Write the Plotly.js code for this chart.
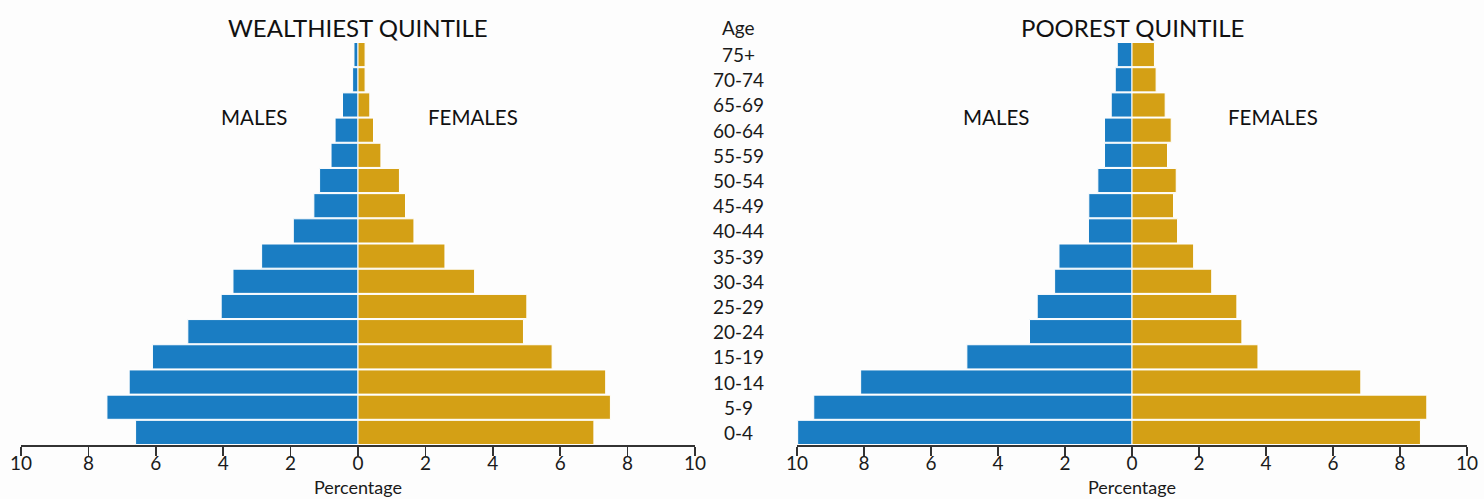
<!DOCTYPE html>
<html>
<head>
<meta charset="utf-8">
<script src="https://cdn.plot.ly/plotly-3.0.1.min.js"></script>
<style>html,body{margin:0;padding:0;background:#fdfdfd;}#chart{width:1484px;height:499px;}</style>
</head>
<body>
<div id="chart"></div>
<script>
// Age groups, bottom to top
const ageGroups = ['0-4','5-9','10-14','15-19','20-24','25-29','30-34','35-39','40-44','45-49','50-54','55-59','60-64','65-69','70-74','75+'];
// Wealthiest quintile (% of population)
const wealthMales   = [6.60, 7.45, 6.79, 6.10, 5.05, 4.06, 3.71, 2.86, 1.92, 1.31, 1.14, 0.80, 0.68, 0.46, 0.16, 0.12];
const wealthFemales = [7.00, 7.49, 7.35, 5.76, 4.91, 5.01, 3.46, 2.58, 1.66, 1.41, 1.23, 0.68, 0.46, 0.35, 0.21, 0.21];
// Poorest quintile (% of population)
const poorMales     = [9.98, 9.50, 8.10, 4.93, 3.06, 2.83, 2.31, 2.18, 1.30, 1.29, 1.02, 0.82, 0.82, 0.62, 0.50, 0.44];
const poorFemales   = [8.61, 8.80, 6.83, 3.76, 3.28, 3.13, 2.38, 1.84, 1.36, 1.24, 1.32, 1.06, 1.17, 0.99, 0.72, 0.67];
// Axis ticks
const tickVals = [-10,-8,-6,-4,-2,0,2,4,6,8,10];
const tickText = ['10','8','6','4','2','0','2','4','6','8','10'];

const BLUE = '#1a7dc3';
const GOLD = '#d4a015';
const FONT = 'Lato, "Open Sans", sans-serif';
const INK = '#1a1a1a';

function bar(vals, color, xa, ya, neg) {
  return {
    type: 'bar', orientation: 'h',
    y: ageGroups, x: vals.map(v => neg ? -v : v),
    xaxis: xa, yaxis: ya,
    marker: {color: color, line: {color: '#ffffff', width: 1}},
    hoverinfo: 'skip', showlegend: false
  };
}

const data = [
  bar(wealthMales, BLUE, 'x', 'y', true),
  bar(wealthFemales, GOLD, 'x', 'y', false),
  bar(poorMales, BLUE, 'x2', 'y2', true),
  bar(poorFemales, GOLD, 'x2', 'y2', false)
];

const W = 1484, PLOT_H = 403;
const xAxisBase = {
  range: [-10, 10], tickvals: tickVals, ticktext: tickText,
  showgrid: false, zeroline: false, showline: true,
  linecolor: '#333', linewidth: 1.5,
  ticks: 'outside', ticklen: 9, tickwidth: 1.5, tickcolor: '#333',
  ticklabelstandoff: -8,
  tickfont: {family: FONT, size: 19, color: INK},
  fixedrange: true
};
const yAxisBase = {
  type: 'category', categoryarray: ageGroups, categoryorder: 'array',
  range: [-0.5, ageGroups.length - 0.5],
  showticklabels: false, showgrid: false, zeroline: false, showline: false, ticks: '',
  domain: [0, 1], fixedrange: true
};

const annFont = {family: FONT, size: 19, color: INK};
const annotations = [];
ageGroups.forEach(a => annotations.push({
  text: a, x: 738 / W, xref: 'paper', y: a, yref: 'y', xanchor: 'center', yanchor: 'middle',
  showarrow: false, font: annFont
}));
annotations.push({text: 'Age', x: 738 / W, xref: 'paper', y: 1 + (42 - 28) / PLOT_H, yref: 'paper', yanchor: 'middle', xanchor: 'center', showarrow: false, font: annFont});
const titleFont = {family: FONT, size: 24, color: '#111'};
annotations.push({text: 'WEALTHIEST QUINTILE', x: 0, xref: 'x', y: 1 + (42 - 28) / PLOT_H, yref: 'paper', xanchor: 'center', yanchor: 'middle', showarrow: false, font: titleFont});
annotations.push({text: 'POOREST QUINTILE', x: 0, xref: 'x2', y: 1 + (42 - 28) / PLOT_H, yref: 'paper', xanchor: 'center', yanchor: 'middle', showarrow: false, font: titleFont});
const sexFont = {family: FONT, size: 20.5, color: '#111'};
annotations.push({text: 'MALES', x: -3.09, xref: 'x', y: '60-64', yref: 'y', yshift: 13, xanchor: 'center', yanchor: 'middle', showarrow: false, font: sexFont});
annotations.push({text: 'FEMALES', x: 3.42, xref: 'x', y: '60-64', yref: 'y', yshift: 13, xanchor: 'center', yanchor: 'middle', showarrow: false, font: sexFont});
annotations.push({text: 'MALES', x: -4.06, xref: 'x2', y: '60-64', yref: 'y2', yshift: 13, xanchor: 'center', yanchor: 'middle', showarrow: false, font: sexFont});
annotations.push({text: 'FEMALES', x: 4.20, xref: 'x2', y: '60-64', yref: 'y2', yshift: 13, xanchor: 'center', yanchor: 'middle', showarrow: false, font: sexFont});
// axis titles
const axTitleFont = {family: FONT, size: 18, color: INK};
annotations.push({text: 'Percentage', x: 0, xref: 'x', y: -(487 - 445) / PLOT_H, yref: 'paper', xanchor: 'center', yanchor: 'middle', showarrow: false, font: axTitleFont});
annotations.push({text: 'Percentage', x: 0, xref: 'x2', y: -(487 - 445) / PLOT_H, yref: 'paper', xanchor: 'center', yanchor: 'middle', showarrow: false, font: axTitleFont});

const layout = {
  width: W, height: 499,
  margin: {l: 0, r: 0, t: 42, b: 54, pad: 0},
  paper_bgcolor: '#fdfdfd', plot_bgcolor: '#fdfdfd',
  barmode: 'relative', bargap: 0.04,
  xaxis: Object.assign({}, xAxisBase, {domain: [21 / W, 695 / W], anchor: 'y'}),
  xaxis2: Object.assign({}, xAxisBase, {domain: [797 / W, 1467 / W], anchor: 'y2'}),
  yaxis: Object.assign({}, yAxisBase, {anchor: 'x'}),
  yaxis2: Object.assign({}, yAxisBase, {anchor: 'x2'}),
  annotations: annotations,
  showlegend: false
};

Plotly.newPlot('chart', data, layout, {displayModeBar: false, staticPlot: true});
</script>
</body>
</html>
